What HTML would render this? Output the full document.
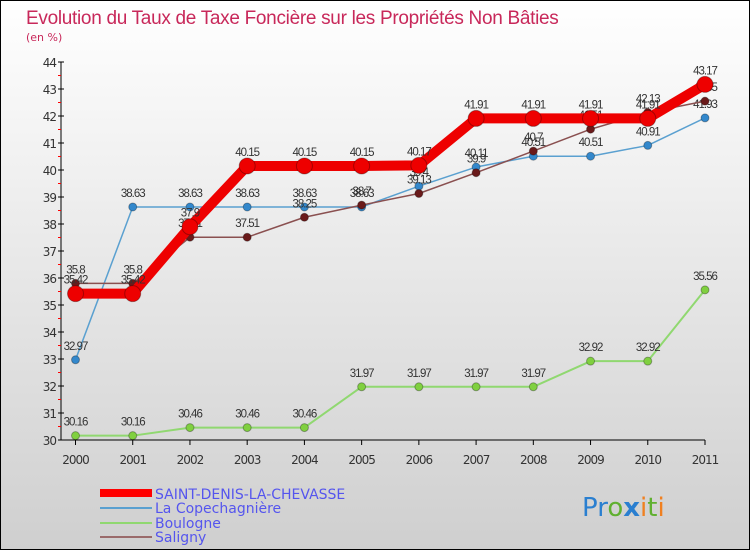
<!DOCTYPE html>
<html><head><meta charset="utf-8"><style>
body{margin:0;width:750px;height:550px;overflow:hidden}
svg text{font-family:"DejaVu Sans","Liberation Sans",sans-serif}
</style></head><body>
<svg id="c" width="750" height="550" xmlns="http://www.w3.org/2000/svg">
<defs><linearGradient id="bg" x1="0" y1="0" x2="0" y2="1"><stop offset="0" stop-color="#ffffff"/><stop offset="1" stop-color="#cfcfcf"/></linearGradient></defs>
<rect x="0.5" y="0.5" width="749" height="549" fill="url(#bg)" stroke="#000"/>
<text x="26" y="24" font-size="19" fill="#c8285a" style="font-family:'Liberation Sans',sans-serif" letter-spacing="-0.3">Evolution du Taux de Taxe Foncière sur les Propriétés Non Bâties</text>
<text x="26" y="41" font-size="11" fill="#c8285a">(en %)</text>
<g id="axes"></g><g id="series"></g>
<g>
<rect x="100" y="489" width="52" height="8" fill="#f00"/>
<text x="155" y="499" font-size="14" fill="#5555ee">SAINT-DENIS-LA-CHEVASSE</text>
<line x1="100" y1="508" x2="152" y2="508" stroke="#5aa0d0" stroke-width="2"/>
<text x="155" y="513" font-size="14" fill="#5555ee">La Copechagnière</text>
<line x1="100" y1="523" x2="152" y2="523" stroke="#90d870" stroke-width="2"/>
<text x="155" y="528" font-size="14" fill="#5555ee">Boulogne</text>
<line x1="100" y1="537" x2="152" y2="537" stroke="#9a6a6a" stroke-width="2"/>
<text x="155" y="542" font-size="14" fill="#5555ee">Saligny</text>
</g>
<text x="582" y="516" font-size="26"><tspan fill="#2a7fd0">Pr</tspan><tspan fill="#60b030">o</tspan><tspan fill="#2a7fd0" font-weight="bold">x</tspan><tspan fill="#f08020">i</tspan><tspan fill="#60b030">t</tspan><tspan fill="#f08020">i</tspan></text>
</svg>
<script>
const years=["2000","2001","2002","2003","2004","2005","2006","2007","2008","2009","2010","2011"];
const yTicks=[30,31,32,33,34,35,36,37,38,39,40,41,42,43,44];
const saintDenis=[35.42,35.42,37.9,40.15,40.15,40.15,40.17,41.91,41.91,41.91,41.91,43.17];
const copechagniere=[32.97,38.63,38.63,38.63,38.63,38.63,39.4,40.11,40.51,40.51,40.91,41.93];
const boulogne=[30.16,30.16,30.46,30.46,30.46,31.97,31.97,31.97,31.97,32.92,32.92,35.56];
const saligny=[35.8,35.8,37.51,37.51,38.25,38.7,39.13,39.9,40.7,41.51,42.13,42.55];
const NS="http://www.w3.org/2000/svg";
const X=i=>75.5+i*(705-75.5)/11;
const Y=v=>440-(v-30)*27;
function mk(t,a,p){const e=document.createElementNS(NS,t);for(const k in a)e.setAttribute(k,a[k]);p.appendChild(e);return e;}
const ax=document.getElementById('axes');
let l=mk('line',{x1:61,y1:Y(44),x2:61,y2:Y(30),stroke:'#000'},ax);


l=mk('line',{x1:61,y1:Y(30),x2:X(11),y2:Y(30),stroke:'#000'},ax);


yTicks.forEach(v=>{
 mk('line',{x1:58,y1:Y(v),x2:64,y2:Y(v),stroke:'#000'},ax);
 if(v<44) mk('line',{x1:58,y1:Y(v+0.5),x2:61,y2:Y(v+0.5),stroke:'#f00'},ax);
 const t=mk('text',{x:56,y:Y(v)+5,'font-size':12,fill:'#333','text-anchor':'end','letter-spacing':'-1'},ax);
 t.textContent=v;
 
 
});
years.forEach((y,i)=>{
 mk('line',{x1:X(i),y1:Y(30),x2:X(i),y2:Y(30)+5,stroke:'#000'},ax);
 const t=mk('text',{x:X(i),y:Y(30)+24,'font-size':12,fill:'#333','text-anchor':'middle','letter-spacing':'-1'},ax);
 t.textContent=y;
 
 
});
const sg=document.getElementById('series');
function draw(name,vals,col,w,r,dot){
 const g=mk('g',{},sg);
 
 
 mk('polyline',{points:vals.map((v,i)=>X(i)+','+Y(v)).join(' '),fill:'none',stroke:col,'stroke-width':w,'stroke-linejoin':'round'},g);
 vals.forEach((v,i)=>{
  const c=mk('circle',{cx:X(i),cy:Y(v),r:r,fill:dot,stroke:'rgba(0,0,0,0.3)'},g);
  
  
  const t=mk('text',{x:X(i),y:Y(v)-10,'font-size':11.5,fill:'#333','text-anchor':'middle','letter-spacing':'-1',style:"font-family:'Liberation Sans',sans-serif"},g);
  t.textContent=v;
  
  
 });
}
draw('series-boulogne',boulogne,'#90d870',2,4,'#80d040');
draw('series-copechagniere',copechagniere,'#5aa0d0',1.5,4,'#3388cc');
draw('series-saligny',saligny,'#8a5050',1.5,4,'#6a1a1a');
draw('series-saint-denis',saintDenis,'#ee0000',10,8,'#ee0000');
</script>
</body></html>
